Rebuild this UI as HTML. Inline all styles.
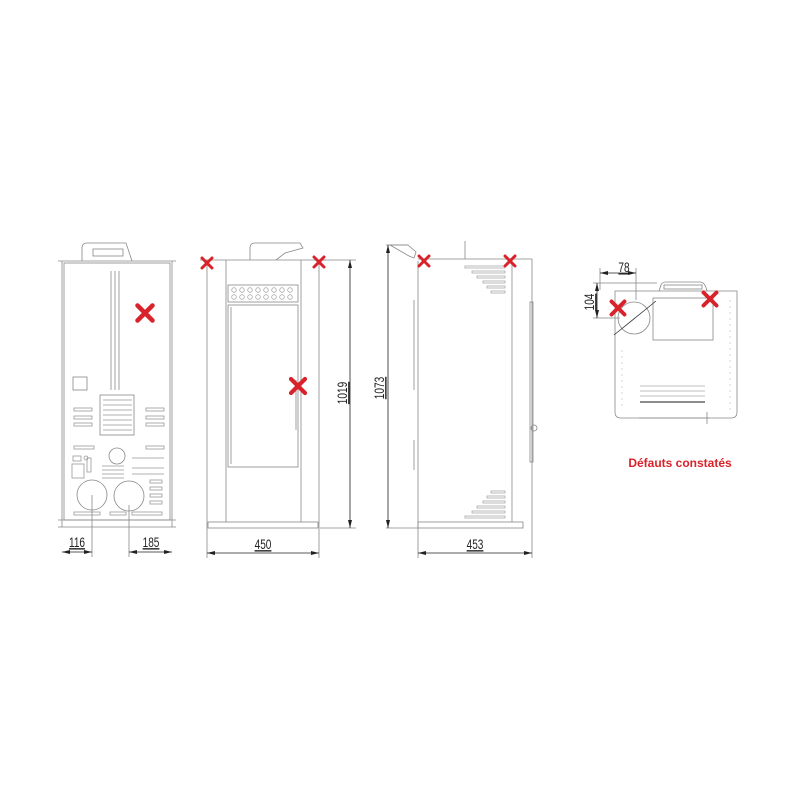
<!DOCTYPE html>
<html><head><meta charset="utf-8"><style>
html,body{margin:0;padding:0;background:#fff;}
svg{display:block}
text{font-family:"Liberation Sans",sans-serif;}
</style></head><body>
<svg width="800" height="800" viewBox="0 0 800 800" xmlns="http://www.w3.org/2000/svg">
<defs>
<marker id="ar" markerWidth="8" markerHeight="6" refX="8" refY="3" orient="auto-start-reverse" markerUnits="userSpaceOnUse"><path d="M0,1 L8,3 L0,5 z" fill="#222"/></marker>
<g id="x"><path d="M-5,-5 L5,5 M5,-5 L-5,5" stroke="#d9232a" stroke-width="3" stroke-linecap="round"/></g>
</defs>
<g fill="none" stroke="#888" stroke-width="0.8">
<!-- REAR VIEW -->
<path d="M82,261 L82,248 Q82,243 87,243 L126,243 L132,261"/>
<rect x="93" y="249" width="30" height="7"/>
<line x1="58" y1="261" x2="176" y2="261"/>
<rect x="64" y="263" width="106" height="257"/>
<line x1="62" y1="261" x2="62" y2="527"/><line x1="172" y1="261" x2="172" y2="527"/>
<line x1="58" y1="520" x2="176" y2="520"/>
<line x1="58" y1="527" x2="176" y2="527"/>
<line x1="111" y1="271" x2="111" y2="390"/><line x1="115" y1="271" x2="115" y2="390"/><line x1="119" y1="271" x2="119" y2="390"/>
<rect x="73" y="377" width="14" height="13"/>
<rect x="100" y="395" width="34" height="40"/>
<g stroke="#999">
<line x1="103" y1="400" x2="132" y2="400"/><line x1="103" y1="405" x2="132" y2="405"/><line x1="103" y1="410" x2="132" y2="410"/><line x1="103" y1="415" x2="132" y2="415"/><line x1="103" y1="420" x2="132" y2="420"/><line x1="103" y1="425" x2="132" y2="425"/><line x1="103" y1="430" x2="132" y2="430"/>
<rect x="74" y="408" width="18" height="3"/><rect x="74" y="416" width="18" height="3"/><rect x="74" y="423" width="18" height="3"/>
<rect x="146" y="408" width="18" height="3"/><rect x="146" y="416" width="18" height="3"/><rect x="146" y="423" width="18" height="3"/>
<rect x="74" y="446" width="20" height="3"/><rect x="146" y="446" width="18" height="3"/>
<rect x="73" y="456" width="8" height="5"/><circle cx="86" cy="458" r="2"/>
<rect x="72" y="464" width="12" height="14"/><rect x="87" y="458" width="4" height="14"/>
<line x1="102" y1="466" x2="124" y2="466"/><line x1="102" y1="470" x2="124" y2="470"/><line x1="102" y1="474" x2="124" y2="474"/><line x1="102" y1="478" x2="124" y2="478"/>
<line x1="132" y1="458" x2="164" y2="458"/><line x1="132" y1="468" x2="164" y2="468"/><line x1="132" y1="474" x2="164" y2="474"/>
<rect x="150" y="480" width="12" height="3"/><rect x="150" y="487" width="12" height="3"/><rect x="150" y="494" width="12" height="3"/><rect x="150" y="501" width="12" height="3"/>
<rect x="74" y="512" width="26" height="3"/><rect x="110" y="512" width="16" height="3"/><rect x="132" y="512" width="30" height="3"/>
</g>
<circle cx="117" cy="456" r="8"/>
<circle cx="92" cy="495" r="15"/>
<circle cx="129" cy="496" r="15"/>
<line x1="92" y1="495" x2="92" y2="557"/><line x1="129" y1="505" x2="129" y2="557"/>
<!-- FRONT VIEW -->
<path d="M250,260 L250,248 Q250,243 255,243 L300,243 L303,248 L285,253 L276,260"/>
<line x1="200" y1="260" x2="326" y2="260"/>
<line x1="207" y1="260" x2="207" y2="558"/><line x1="319" y1="260" x2="319" y2="558"/>
<line x1="226" y1="260" x2="226" y2="522"/><line x1="301" y1="260" x2="301" y2="522"/>
<rect x="228" y="285" width="70" height="17"/>
<g stroke="#aaa"><circle cx="234" cy="290" r="2.3"/><circle cx="242" cy="290" r="2.3"/><circle cx="250" cy="290" r="2.3"/><circle cx="258" cy="290" r="2.3"/><circle cx="266" cy="290" r="2.3"/><circle cx="274" cy="290" r="2.3"/><circle cx="282" cy="290" r="2.3"/><circle cx="290" cy="290" r="2.3"/>
<circle cx="234" cy="297" r="2.3"/><circle cx="242" cy="297" r="2.3"/><circle cx="250" cy="297" r="2.3"/><circle cx="258" cy="297" r="2.3"/><circle cx="266" cy="297" r="2.3"/><circle cx="274" cy="297" r="2.3"/><circle cx="282" cy="297" r="2.3"/><circle cx="290" cy="297" r="2.3"/></g>
<rect x="228" y="305" width="70" height="162"/>
<line x1="231" y1="307" x2="231" y2="464"/><line x1="296" y1="380" x2="296" y2="430"/>
<rect x="208" y="522" width="110" height="6"/>
<line x1="320" y1="260" x2="356" y2="260"/><line x1="320" y1="528" x2="356" y2="528"/>
<!-- SIDE VIEW -->
<path d="M390,245 L408,245 L416,252 L414,258 L409,256 Z"/>
<line x1="386" y1="245" x2="408" y2="245"/>
<line x1="418" y1="259" x2="532" y2="259"/>
<line x1="465" y1="241" x2="465" y2="259"/>
<line x1="418" y1="261" x2="418" y2="558"/>
<line x1="512" y1="259" x2="512" y2="522"/>
<line x1="532" y1="259" x2="532" y2="558"/>
<rect x="530" y="302" width="3" height="160"/>
<circle cx="534" cy="428" r="3"/>
<rect x="418" y="522" width="105" height="6"/>
<line x1="386" y1="528" x2="418" y2="528"/>
<line x1="414" y1="300" x2="414" y2="390"/><line x1="414" y1="440" x2="414" y2="470"/>
<g stroke="#aaa">
<rect x="465" y="266" width="40" height="2"/><rect x="472" y="271" width="33" height="2"/><rect x="477" y="276" width="28" height="2"/><rect x="483" y="281" width="22" height="2"/><rect x="487" y="286" width="18" height="2"/><rect x="491" y="291" width="14" height="2"/>
<rect x="491" y="491" width="14" height="2"/><rect x="487" y="496" width="18" height="2"/><rect x="483" y="501" width="22" height="2"/><rect x="477" y="506" width="28" height="2"/><rect x="472" y="511" width="33" height="2"/><rect x="465" y="516" width="40" height="2"/>
</g>
<!-- TOP VIEW -->
<path d="M615,291 L737,291 L737,412 Q737,418 731,418 L621,418 Q615,418 615,412 Z"/>
<path d="M659,291 L661,285 Q662,282 666,282 L700,282 Q705,282 707,291"/>
<rect x="664" y="285" width="38" height="4"/>
<rect x="653" y="298" width="60" height="42"/>
<circle cx="634" cy="318" r="16"/>
<line x1="614" y1="335" x2="656" y2="301" stroke="#333"/>
<g stroke="#aaa"><line x1="640" y1="386" x2="705" y2="386"/><line x1="640" y1="391" x2="705" y2="391"/><line x1="640" y1="396" x2="705" y2="396"/></g>
<line x1="640" y1="402" x2="705" y2="402" stroke="#666" stroke-width="1.4"/>
<line x1="639" y1="418" x2="709" y2="418"/>
<line x1="707" y1="412" x2="707" y2="424"/>
<line x1="600" y1="268" x2="600" y2="290"/><line x1="636" y1="268" x2="636" y2="300"/>
<line x1="593" y1="283" x2="657" y2="283"/><line x1="593" y1="318" x2="620" y2="318"/>
<g stroke="#ccc" stroke-dasharray="2,4"><line x1="622" y1="350" x2="622" y2="410"/><line x1="730" y1="300" x2="730" y2="410"/></g>
</g>
<g stroke="#222" stroke-width="0.8" fill="none">
<line x1="62" y1="552" x2="92" y2="552" marker-start="url(#ar)" marker-end="url(#ar)"/>
<line x1="129" y1="552" x2="172" y2="552" marker-start="url(#ar)" marker-end="url(#ar)"/>
<line x1="207" y1="553" x2="319" y2="553" marker-start="url(#ar)" marker-end="url(#ar)"/>
<line x1="418" y1="553" x2="532" y2="553" marker-start="url(#ar)" marker-end="url(#ar)"/>
<line x1="350" y1="260" x2="350" y2="528" marker-start="url(#ar)" marker-end="url(#ar)"/>
<line x1="388" y1="245" x2="388" y2="528" marker-start="url(#ar)" marker-end="url(#ar)"/>
<line x1="600" y1="273" x2="636" y2="273" marker-start="url(#ar)" marker-end="url(#ar)"/>
<line x1="597" y1="283" x2="597" y2="318" marker-start="url(#ar)" marker-end="url(#ar)"/>
</g>
<g font-size="14" fill="#222" text-decoration="underline">
<text transform="translate(77,547) scale(0.72,1)" text-anchor="middle">116</text>
<text transform="translate(151,547) scale(0.72,1)" text-anchor="middle">185</text>
<text transform="translate(263,549) scale(0.72,1)" text-anchor="middle">450</text>
<text transform="translate(475,549) scale(0.72,1)" text-anchor="middle">453</text>
<text transform="translate(624,272) scale(0.72,1)" text-anchor="middle">78</text>
<text transform="translate(347,393) rotate(-90) scale(0.72,1)" text-anchor="middle">1019</text>
<text transform="translate(384,388) rotate(-90) scale(0.72,1)" text-anchor="middle">1073</text>
<text transform="translate(594,302) rotate(-90) scale(0.72,1)" text-anchor="middle">104</text>
</g>
<use href="#x" x="145" y="313" transform="translate(145,313) scale(1.5) translate(-145,-313)"/>
<use href="#x" x="207" y="263"/>
<use href="#x" x="319" y="262"/>
<use href="#x" x="298" y="386" transform="translate(298,386) scale(1.4) translate(-298,-386)"/>
<use href="#x" x="424" y="261"/>
<use href="#x" x="510" y="261"/>
<use href="#x" x="618" y="308" transform="translate(618,308) scale(1.3) translate(-618,-308)"/>
<use href="#x" x="710" y="299" transform="translate(710,299) scale(1.3) translate(-710,-299)"/>
<text x="680" y="467" text-anchor="middle" font-size="12" font-weight="bold" fill="#d9232a">Défauts constatés</text>
</svg>
</body></html>
